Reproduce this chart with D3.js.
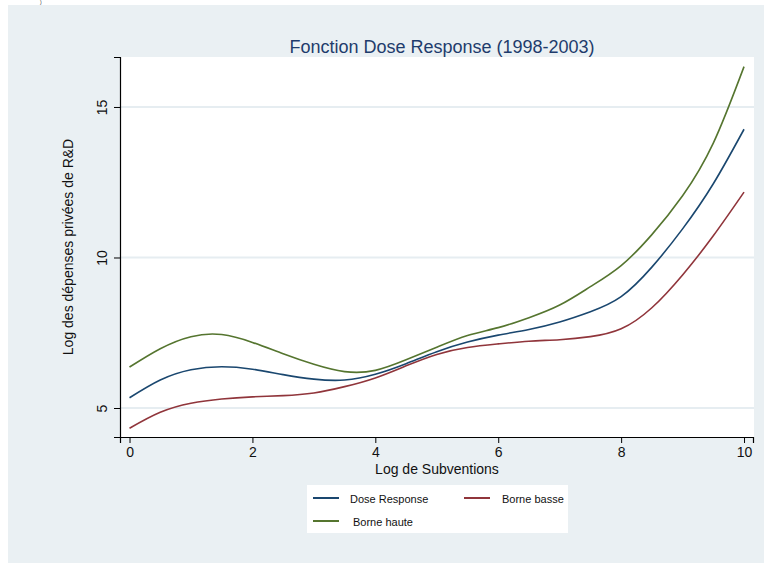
<!DOCTYPE html>
<html><head><meta charset="utf-8">
<script src="https://cdn.jsdelivr.net/npm/d3@7"></script>
<style>body{margin:0;background:#fff;}svg{display:block;font-family:"Liberation Sans",Arial,sans-serif;}</style>
</head><body><svg id="c" width="769" height="565"></svg>
<script>
const xValues = [0,0.5,1,1.5,2,2.5,3,3.5,4,4.5,5,5.5,6,6.5,7,7.5,8,8.5,9,9.5,10];
const doseResponse = [5.34,5.93,6.27,6.37,6.29,6.11,5.96,5.93,6.12,6.47,6.87,7.19,7.42,7.61,7.86,8.2,8.7,9.68,10.95,12.45,14.26];
const borneHaute = [6.36,6.97,7.37,7.44,7.18,6.8,6.45,6.21,6.25,6.6,7.02,7.41,7.67,8.0,8.42,9.03,9.73,10.76,12.05,13.8,16.34];
const borneBasse = [4.33,4.86,5.16,5.3,5.37,5.41,5.5,5.71,6.0,6.4,6.78,7.01,7.13,7.22,7.27,7.37,7.63,8.33,9.42,10.72,12.17];
const xTicks = [0,2,4,6,8,10];
const yTicks = [5,10,15];
const seriesNames = ["Dose Response","Borne basse","Borne haute"];
const seriesColors = ["#1a476f","#90353b","#55752f"];

const svg = d3.select("#c");
// outer region
svg.append("rect").attr("x",8).attr("y",5).attr("width",756).attr("height",558).attr("fill","#eaf0f3");
svg.append("text").attr("x",40).attr("y",4).attr("font-size",5).attr("fill","#333").text(")");
// plot region
svg.append("rect").attr("x",120).attr("y",57).attr("width",634).attr("height",380).attr("fill","#fff");

const x = d3.scaleLinear().domain([-0.155,10.146]).range([120,753]);
const y = d3.scaleLinear().domain([4.037,16.66]).range([437,57]);

// gridlines
svg.append("g").selectAll("line").data(yTicks).join("line")
  .attr("x1",120).attr("x2",754).attr("y1",d=>y(d)).attr("y2",d=>y(d))
  .attr("stroke","#e6edf1").attr("stroke-width",2);

// axes
const yAxis = svg.append("g").attr("transform","translate(120,0)")
  .call(d3.axisLeft(y).tickValues(yTicks).tickSize(6).tickPadding(4).tickFormat(d3.format("d")));
yAxis.select(".domain").attr("stroke","#000").attr("stroke-width",1.2);
yAxis.selectAll(".tick line").attr("stroke","#000");
yAxis.selectAll(".tick text").attr("font-size",14).attr("fill","#111")
  .attr("text-anchor","middle").attr("x",0).attr("y",0).attr("dy","0")
  .attr("transform","translate(-13,0) rotate(-90)");

const xAxis = svg.append("g").attr("transform","translate(0,437)")
  .call(d3.axisBottom(x).tickValues(xTicks).tickSize(6).tickPadding(4).tickFormat(d3.format("d")));
xAxis.select(".domain").attr("stroke","#000").attr("stroke-width",1.2);
xAxis.selectAll(".tick line").attr("stroke","#000");
xAxis.selectAll(".tick text").attr("font-size",14).attr("fill","#111");

// titles
svg.append("text").attr("x",442).attr("y",53).attr("text-anchor","middle")
  .attr("font-size",18).attr("fill","#1e3c6c").text("Fonction Dose Response (1998-2003)");
svg.append("text").attr("x",437).attr("y",474).attr("text-anchor","middle")
  .attr("font-size",14).attr("fill","#111").text("Log de Subventions");
svg.append("text").attr("transform","translate(73,247) rotate(-90)").attr("text-anchor","middle")
  .attr("font-size",14).attr("fill","#111").text("Log des dépenses privées de R&D");

// lines
const line = d3.line().x((d,i)=>x(xValues[i])).y(d=>y(d)).curve(d3.curveNatural);
const seriesData = [doseResponse, borneBasse, borneHaute];
[1,0,2].forEach(k=>{
  svg.append("path").datum(seriesData[k]).attr("d",line)
    .attr("fill","none").attr("stroke",seriesColors[k]).attr("stroke-width",1.6);
});

// legend
const lg = svg.append("g");
lg.append("rect").attr("x",307).attr("y",485).attr("width",261).attr("height",48).attr("fill","#fff");
const legendPos = [[313,498,350],[464,498,502],[313,521,353]];
seriesNames.forEach((n,i)=>{
  const [lx,ly,tx] = legendPos[i];
  lg.append("line").attr("x1",lx).attr("x2",lx+26).attr("y1",ly).attr("y2",ly)
    .attr("stroke",seriesColors[i]).attr("stroke-width",2);
  lg.append("text").attr("x",tx).attr("y",ly+4.5).attr("font-size",11).attr("fill","#111").text(n);
});
</script></body></html>
